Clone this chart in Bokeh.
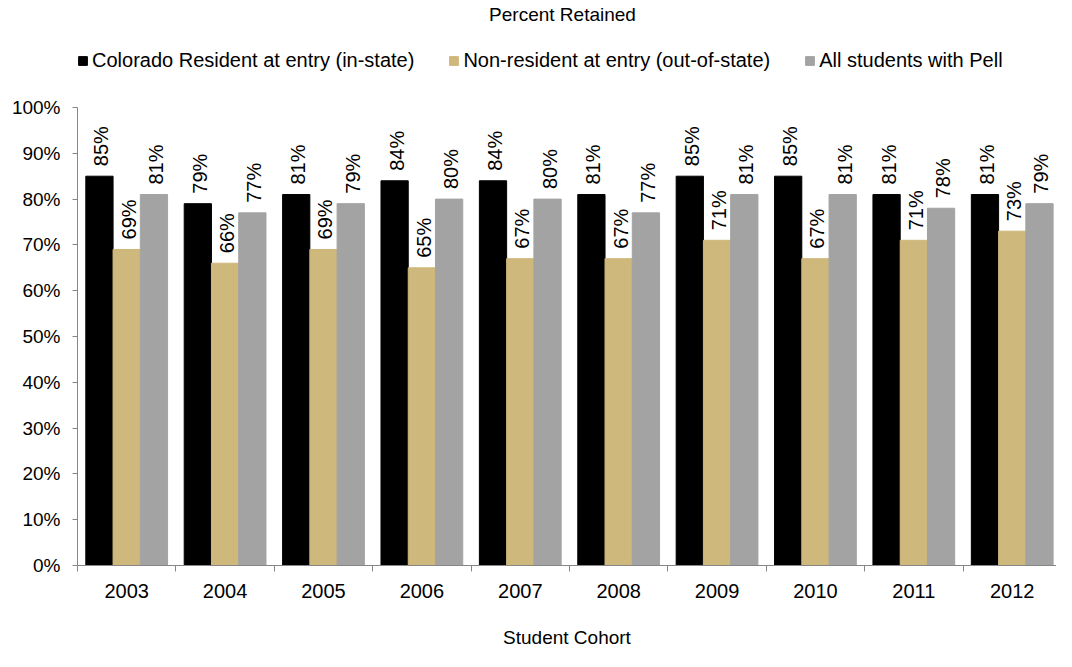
from bokeh.plotting import figure
from bokeh.models import (ColumnDataSource, Range1d, FixedTicker, PrintfTickFormatter,
                          LabelSet, Label, Legend, LegendItem)
from bokeh.core.properties import value
from bokeh.transform import dodge
from bokeh.embed import file_html
from bokeh.resources import INLINE

years = ["2003", "2004", "2005", "2006", "2007", "2008", "2009", "2010", "2011", "2012"]
resident = [85, 79, 81, 84, 84, 81, 85, 85, 81, 81]
nonresident = [69, 66, 69, 65, 67, 67, 71, 67, 71, 73]
pell = [81, 77, 79, 80, 80, 77, 81, 81, 78, 79]
series_names = ["Colorado Resident at entry (in-state)",
                "Non-resident at entry (out-of-state)",
                "All students with Pell"]
colors = ["#000000", "#CFB87C", "#A3A3A3"]
title_text = "Percent Retained"
x_title = "Student Cohort"

FONT = "Liberation Sans"
W, H = 1056, 651
LEFT, BOTTOM = 77, 86
FRAME_H = H - BOTTOM
TOP_PAD = 107          # px from top of frame to the 100% line
y_end = 100 * FRAME_H / (FRAME_H - TOP_PAD)

idx = list(range(len(years)))
src = ColumnDataSource(dict(
    idx=idx, resident=resident, nonresident=nonresident, pell=pell,
    resident_lbl=[f"{v}%" for v in resident],
    nonresident_lbl=[f"{v}%" for v in nonresident],
    pell_lbl=[f"{v}%" for v in pell],
))

p = figure(width=W, height=H, output_backend="svg", toolbar_location=None, title=None,
           x_range=Range1d(-0.5, 9.45), y_range=Range1d(0, y_end),
           min_border_left=LEFT, min_border_right=0, min_border_top=0, min_border_bottom=BOTTOM)
p.outline_line_color = None
p.xgrid.grid_line_color = None
p.ygrid.grid_line_color = None

bw = 0.277
cols = ["resident", "nonresident", "pell"]
offsets = [-bw, 0.0, bw]
items = []
for col, off, color, name in zip(cols, offsets, colors, series_names):
    r = p.vbar(x=dodge("idx", off, range=p.x_range), top=col, width=bw, source=src,
               fill_color=color, line_color=color)
    items.append(LegendItem(label=name, renderers=[r]))
    lbl = LabelSet(x=dodge("idx", off, range=p.x_range), y=col, text=col + "_lbl", source=src,
                   angle=1.5708, text_align="left", text_baseline="middle",
                   x_offset=2, y_offset=10, text_font=value(FONT), text_font_size=value("20px"),
                   text_color="#000000")
    p.add_layout(lbl)

legend = Legend(items=items, orientation="horizontal", location=(0, FRAME_H - 62 - 10),
                label_text_font=FONT, label_text_font_size="20px", label_text_color="#000000",
                glyph_width=11, glyph_height=11, spacing=34, label_standoff=4, label_height=20,
                border_line_color=None, background_fill_alpha=0, padding=0, margin=0)
p.add_layout(legend, "center")

p.add_layout(Label(x=562 - LEFT, y=FRAME_H - 14, x_units="screen", y_units="screen",
                   text=title_text, text_align="center", text_baseline="middle",
                   text_font=FONT, text_font_size="19px", text_color="#000000"))

# x axis
xa = p.xaxis[0]
xa.ticker = FixedTicker(ticks=idx, minor_ticks=[i - 0.5 for i in idx] + [len(idx) - 0.5])
xa.major_label_overrides = {i: y for i, y in zip(idx, years)}
xa.major_tick_line_color = None
xa.major_tick_out = 0
xa.major_tick_in = 0
xa.minor_tick_out = 6
xa.minor_tick_in = 0
xa.minor_tick_line_color = "#868686"
xa.axis_line_color = "#868686"
xa.major_label_text_font = FONT
xa.major_label_text_font_size = "20px"
xa.major_label_text_color = "#000000"
xa.major_label_standoff = 12
xa.axis_label = x_title
xa.axis_label_text_font = FONT
xa.axis_label_text_font_size = "19px"
xa.axis_label_text_font_style = "normal"
xa.axis_label_text_color = "#000000"
xa.axis_label_standoff = 26

# y axis
ya = p.yaxis[0]
ya.bounds = (0, 100)
ya.ticker = FixedTicker(ticks=list(range(0, 101, 10)))
ya.formatter = PrintfTickFormatter(format="%d%%")
ya.axis_line_color = "#868686"
ya.major_tick_line_color = "#868686"
ya.major_tick_out = 5
ya.major_tick_in = 0
ya.minor_tick_line_color = None
ya.major_label_text_font = FONT
ya.major_label_text_font_size = "19px"
ya.major_label_text_color = "#000000"
ya.major_label_standoff = 12

open("out.html", "w").write(file_html(p, INLINE))
